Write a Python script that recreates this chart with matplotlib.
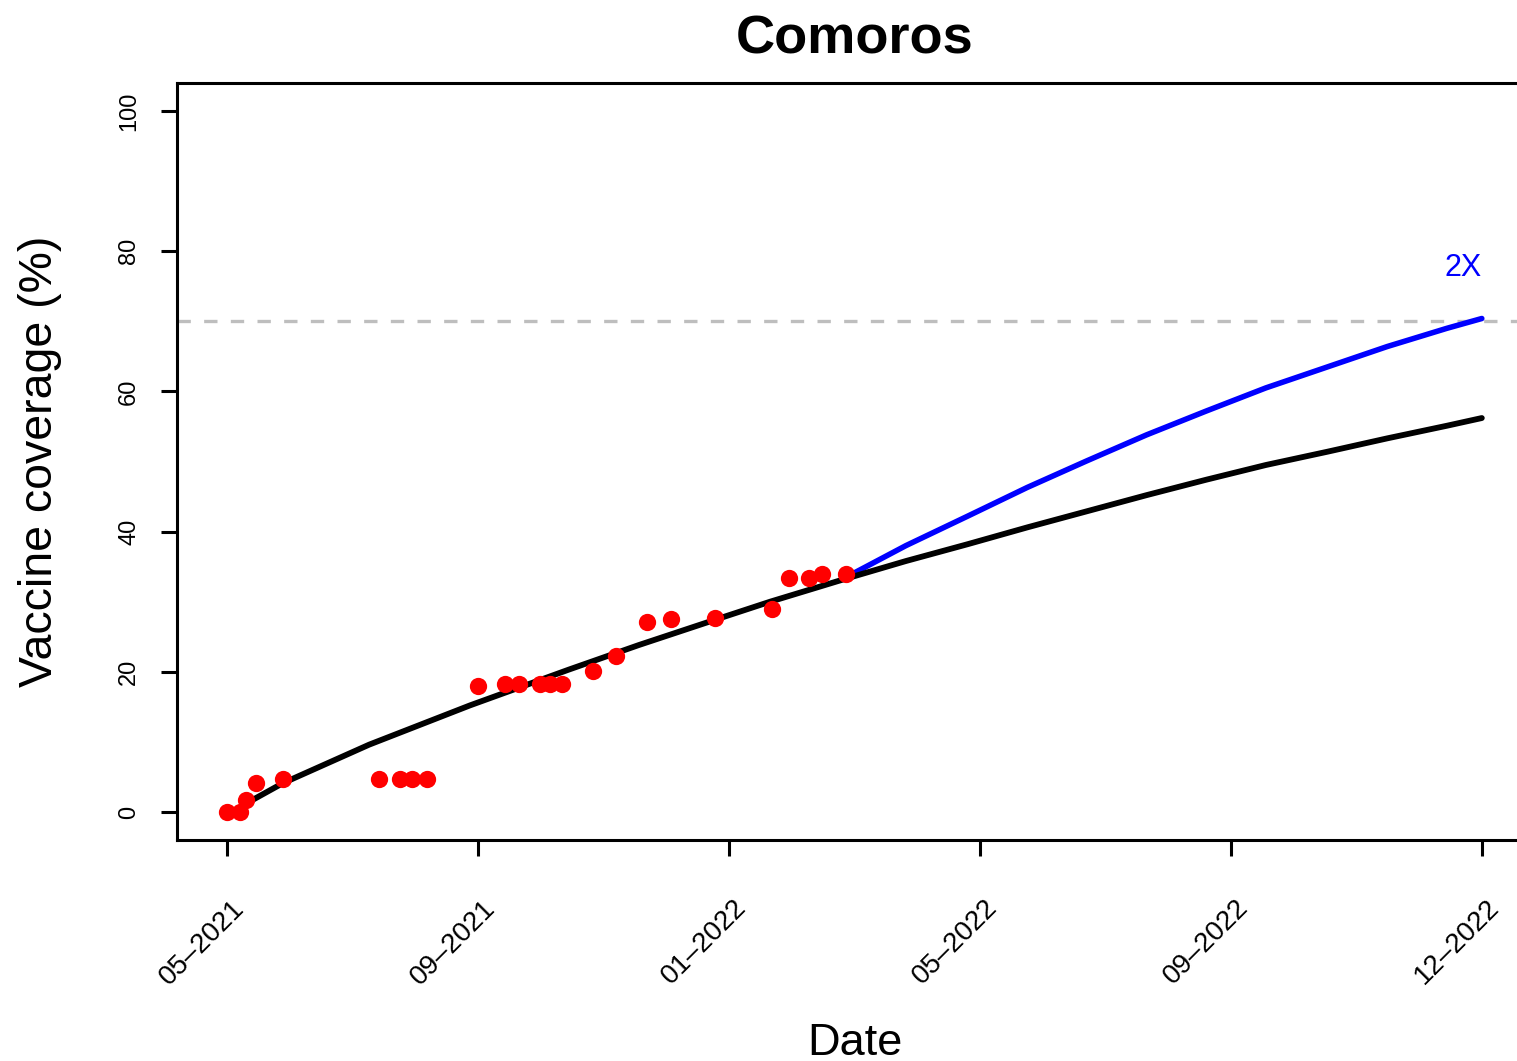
import matplotlib
matplotlib.use('Agg')
import matplotlib.pyplot as plt
import matplotlib.transforms as mtransforms

plt.rcParams['font.family'] = ['Liberation Sans', 'DejaVu Sans']

# days since start of 05-2021
obs_day = [0, 6, 9, 14, 27, 74, 84, 90, 97, 122, 135, 142, 152, 157, 163,
           178, 189, 204, 216, 237, 265, 273, 283, 289, 301]
obs_cov = [0.0, 0.0, 1.7, 4.2, 4.7, 4.7, 4.7, 4.7, 4.7, 18.0, 18.2, 18.2, 18.2, 18.2, 18.2,
           20.1, 22.3, 27.1, 27.6, 27.7, 28.9, 33.4, 33.4, 33.9, 33.9]

# fitted curve
fit_day = [11, 27, 69, 118, 166, 200, 237, 264, 301, 330, 360, 389, 418, 447,
           476, 505, 535, 564, 593, 610]
fit_cov = [1.5, 4.1, 9.6, 15.2, 20.3, 23.8, 27.4, 30.0, 33.3, 35.8, 38.2, 40.6, 42.9, 45.2,
           47.4, 49.5, 51.4, 53.3, 55.1, 56.2]

# 2X scenario
proj_day = [301, 330, 360, 389, 418, 447, 476, 505, 535, 564, 593, 610]
proj_cov = [33.5, 38.0, 42.2, 46.3, 50.1, 53.8, 57.2, 60.5, 63.5, 66.4, 69.0, 70.4]

target = 70
tick_day = [0, 122, 244, 366, 488, 610]
tick_lab = ['05\u20132021', '09\u20132021', '01\u20132022', '05\u20132022', '09\u20132022', '12\u20132022']

W, H = 1517, 1061
fig = plt.figure(figsize=(W / 100, H / 100), dpi=100)
ax = fig.add_axes([177 / W, 221 / H, 1355 / W, 757 / H])

ax.axhline(target, color='#bebebe', lw=2.4, dashes=(4, 4))
ax.plot(proj_day, proj_cov, color='blue', lw=4, solid_capstyle='round', solid_joinstyle='round')
ax.plot(fit_day, fit_cov, color='black', lw=4.2, solid_capstyle='round', solid_joinstyle='round')
ax.scatter(obs_day, obs_cov, s=155, color='red', zorder=3, linewidths=0)
ax.text(610, 76.4, '2X', color='blue', fontsize=22, ha='right', va='baseline')

ax.set_xlim(-24.4, 634.4)
ax.set_ylim(-4, 104)
ax.set_yticks([0, 20, 40, 60, 80, 100])
ax.set_xticks(tick_day)
ax.set_xticklabels(tick_lab, rotation=45, ha='right', rotation_mode='anchor', fontsize=20)
for s in ax.spines.values():
    s.set_linewidth(2.2)
ax.tick_params(axis='both', width=2.2, length=11.5)
ax.tick_params(axis='x', pad=28)
ax.tick_params(axis='y', pad=15)
for lab in ax.get_yticklabels():
    lab.set_rotation(90)
    lab.set_va('center')
    lab.set_fontsize(17)
off = mtransforms.ScaledTranslation(0.04, 0, fig.dpi_scale_trans)
for lab in ax.get_xticklabels():
    lab.set_transform(lab.get_transform() + off)

fig.text(855 / W, 1 - 53 / H, 'Comoros', ha='center', va='baseline', fontsize=39, weight='bold')
fig.text(855 / W, 1 - 1055 / H, 'Date', ha='center', va='baseline', fontsize=32.5)
fig.text(40 / W, 1 - 461.5 / H, 'Vaccine coverage (%)', rotation=90, ha='center', va='center', fontsize=33.5)

fig.savefig('out.png', dpi=100)
